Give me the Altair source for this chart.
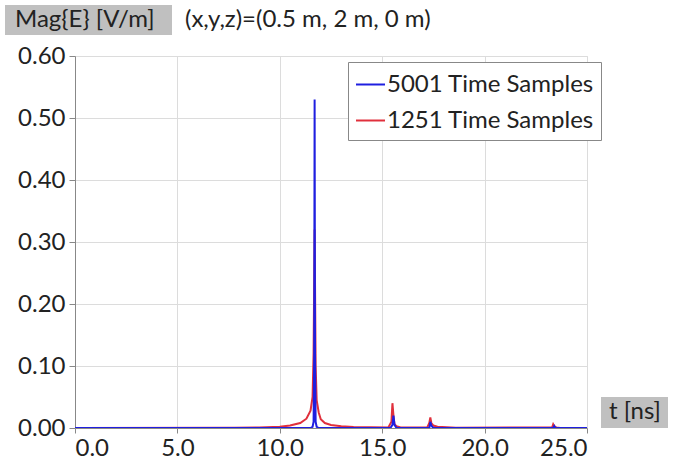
import altair as alt
import pandas as pd

FONT = "Lato"
FS = 24

# ---- data ----
red_name = "1251 Time Samples"
red_t = [0.0, 7.8, 9.0, 10.0, 10.5, 11.0, 11.3, 11.5, 11.6, 11.65, 11.7, 11.75, 11.8, 11.9, 12.0,
         12.2, 12.5, 13.0, 13.6, 15.3, 15.45, 15.5, 15.55, 15.6, 15.7, 15.9, 17.2, 17.3, 17.35,
         17.4, 17.5, 17.7, 18.6, 23.3, 23.35, 23.4, 23.5, 23.7, 25.0]
red_v = [0.0, 0.0005, 0.001, 0.002, 0.004, 0.008, 0.015, 0.028, 0.05, 0.12, 0.32, 0.10, 0.045, 0.025, 0.014,
         0.008, 0.005, 0.003, 0.0015, 0.001, 0.010, 0.040, 0.020, 0.006, 0.003, 0.001, 0.001, 0.008, 0.017,
         0.008, 0.004, 0.002, 0.0005, 0.001, 0.006, 0.003, 0.001, 0.0, 0.0]

blue_name = "5001 Time Samples"
blue_t = [0.0, 11.5, 11.6, 11.65, 11.68, 11.7, 11.72, 11.75, 11.8, 11.9, 15.4, 15.5, 15.55, 15.6, 15.7,
          17.3, 17.35, 17.4, 17.5, 23.35, 23.4, 23.45, 25.0]
blue_v = [0.0, 0.0, 0.002, 0.01, 0.12, 0.53, 0.12, 0.01, 0.002, 0.0, 0.0, 0.005, 0.02, 0.005, 0.0,
          0.0, 0.01, 0.004, 0.0, 0.0, 0.003, 0.0, 0.0]

x_ticks = [0, 5, 10, 15, 20, 25]
y_ticks = [0.0, 0.1, 0.2, 0.3, 0.4, 0.5, 0.6]

red_df = pd.DataFrame({"t": red_t, "v": red_v, "series": red_name})
blue_df = pd.DataFrame({"t": blue_t, "v": blue_v, "series": blue_name})

W, H = 512, 372

color = alt.Color(
    "series:N",
    scale=alt.Scale(domain=[blue_name, red_name], range=["#1f1fe0", "#e0303c"]),
    legend=alt.Legend(
        title=None, orient="none", legendX=273, legendY=6,
        symbolType="stroke", symbolSize=840, symbolStrokeWidth=2,
        labelFont=FONT, labelFontSize=FS, labelColor="#222", labelLimit=400,
        rowPadding=8, padding=7, strokeColor="#888", fillColor="white",
        labelOffset=1,
    ),
)

xenc = alt.X("t:Q", scale=alt.Scale(domain=[0, 25], nice=False),
             axis=alt.Axis(values=x_ticks, format=".1f", title=None, grid=True,
                           labelFont=FONT, labelFontSize=FS, labelColor="#222",
                           gridColor="#dcdcdc", domainColor="#888", tickColor="#888",
                           tickSize=5, labelPadding=3))
yenc = alt.Y("v:Q", scale=alt.Scale(domain=[0, 0.6], nice=False),
             axis=alt.Axis(values=y_ticks, format=".2f", title=None, grid=True,
                           labelFont=FONT, labelFontSize=FS, labelColor="#222",
                           gridColor="#dcdcdc", domainColor="#888", tickColor="#888",
                           tickSize=6, labelPadding=4))

red_line = alt.Chart(red_df).mark_line(strokeWidth=2, clip=True).encode(x=xenc, y=yenc, color=color)
blue_line = alt.Chart(blue_df).mark_line(strokeWidth=2, clip=True).encode(x=xenc, y=yenc, color=color)

one = pd.DataFrame({"a": [0]})

ybox = alt.Chart(one).mark_rect(color="#c0c0c0").encode(
    x=alt.value(-70), x2=alt.value(97), y=alt.value(-51), y2=alt.value(-21))
ytext = alt.Chart(one).mark_text(font=FONT, fontSize=FS, color="#222", align="left", baseline="middle").encode(
    x=alt.value(-60), y=alt.value(-36), text=alt.value("Mag{E} [V/m]"))
loc_text = alt.Chart(one).mark_text(font=FONT, fontSize=FS, color="#222", align="left", baseline="middle").encode(
    x=alt.value(110), y=alt.value(-36), text=alt.value("(x,y,z)=(0.5 m, 2 m, 0 m)"))
xbox = alt.Chart(one).mark_rect(color="#c0c0c0").encode(
    x=alt.value(526), x2=alt.value(593), y=alt.value(341), y2=alt.value(372))
xtext = alt.Chart(one).mark_text(font=FONT, fontSize=FS, color="#222", align="center", baseline="middle").encode(
    x=alt.value(560), y=alt.value(356), text=alt.value("t [ns]"))

chart = alt.layer(red_line, blue_line, ybox, ytext, loc_text, xbox, xtext).properties(
    width=W, height=H,
    autosize=alt.AutoSizeParams(type="none"),
    padding={"left": 75, "top": 56, "right": 90, "bottom": 39},
).configure_view(stroke=None).configure(background="white")

chart.save("out.html", embed_options={"renderer": "svg", "actions": False})
